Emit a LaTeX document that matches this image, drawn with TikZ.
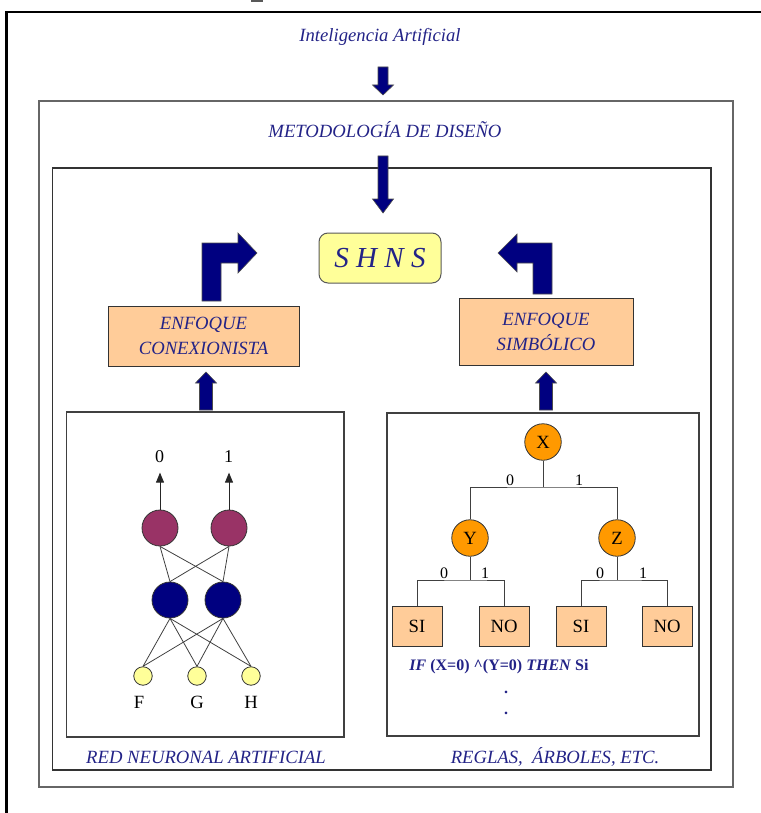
\documentclass[tikz,border=0pt]{standalone}
\usepackage{fontspec}
\setmainfont{Liberation Serif}
\usetikzlibrary{arrows.meta}
\definecolor{txtblue}{RGB}{35,35,135}
\definecolor{navyfill}{RGB}{0,0,128}
\definecolor{peach}{RGB}{255,204,153}
\definecolor{paleyellow}{RGB}{255,255,153}
\definecolor{maroonn}{RGB}{153,51,102}
\definecolor{orangen}{RGB}{255,153,0}
\tikzset{
  bigit/.style={text=txtblue, font=\fontsize{18.67}{25}\selectfont\itshape, inner sep=0pt},
  enfbox/.style={bigit, draw=black!80, fill=peach, line width=1pt, align=center},
  blockarrow/.style={fill=navyfill, draw=black!70, line width=0.6pt},
  frameA/.style={draw=black!60, line width=1.6pt, inner sep=0pt},
  frameB/.style={draw=black!80, line width=1.4pt, inner sep=0pt},
  frameC/.style={draw=black!75, line width=1.1pt, inner sep=0pt},
  neuron/.style={circle, draw=black!80, line width=0.8pt, inner sep=0pt, minimum size=36pt},
  ptext/.style={font=\fontsize{18.67}{22}\selectfont, inner sep=0pt},
  digitA/.style={font=\fontsize{18}{20}\selectfont, inner sep=0pt},
  digitB/.style={font=\fontsize{16}{18}\selectfont, inner sep=0pt},
  wire/.style={draw=black!75, line width=0.8pt},
  outarrow/.style={draw=black!85, line width=0.9pt, -{Triangle[width=8pt,length=10pt]}},
  leaf/.style={ptext, draw=black!80, fill=peach, line width=0.8pt, minimum width=50pt, minimum height=40pt},
  tnode/.style={neuron, ptext, fill=orangen, minimum size=36.5pt},
  ifline/.style={text=txtblue, font=\fontsize{16}{18}\selectfont\bfseries, inner sep=0pt},
  shnsbox/.style={draw=black!65, fill=paleyellow, line width=1pt, rounded corners=9pt,
    minimum width=122pt, minimum height=50pt, text=txtblue, font=\fontsize{29}{32}\selectfont\itshape}
}
\begin{document}
\begin{tikzpicture}[x=1pt,y=-1pt]
\useasboundingbox (0,0) rectangle (760,813);
% outer black frame
\draw[line width=2.6pt] (6.7,813) -- (6.7,12.2) -- (762,12.2);
\fill[black!65] (251,0) rectangle (263,2);
% nested frames
\node[frameA, minimum width=694pt, minimum height=686pt] (metbox) at (386,444) {};
\node[frameB, minimum width=658.5pt, minimum height=602pt] (innerbox) at (381.75,469) {};
\node[frameC, minimum width=277.5pt, minimum height=325pt] (nnbox) at (205.25,574.5) {};
\node[frameC, minimum width=312pt, minimum height=323pt] (treebox) at (543,574.5) {};
% titles
\node[bigit] (ia) at (380,37) {Inteligencia Artificial};
\node[bigit] (met) at (385,130) {METODOLOGÍA DE DISEÑO};
% top arrows
\path[blockarrow] (378,67) -- (388,67) -- (388,85) -- (393.5,85) -- (383,95) -- (372.5,85) -- (378,85) -- cycle;
\path[blockarrow] (378,156) -- (388,156) -- (388,199) -- (393.5,199) -- (383,213) -- (372.5,199) -- (378,199) -- cycle;
% SHNS
\node[shnsbox] (shns) at (380,258) {S H N S};
% enfoque boxes
\node[enfbox, minimum width=191pt, minimum height=60pt] (enfL) at (203.5,336) {ENFOQUE\\CONEXIONISTA};
\node[enfbox, minimum width=174pt, minimum height=67pt] (enfR) at (546,332) {ENFOQUE\\SIMBÓLICO};
% bent arrows
\path[blockarrow] (202,301) -- (202,243) -- (238,243) -- (238,233) -- (257,253) -- (238,273) -- (238,263) -- (221,263) -- (221,301) -- cycle;
\path[blockarrow] (552,294) -- (552,243) -- (517,243) -- (517,234) -- (498,253) -- (517,272) -- (517,263) -- (533,263) -- (533,294) -- cycle;
% up arrows
\path[blockarrow] (199.5,410) -- (199.5,383) -- (195.5,383) -- (206,372) -- (216.5,383) -- (212.5,383) -- (212.5,410) -- cycle;
\path[blockarrow] (539.5,410) -- (539.5,383) -- (535.5,383) -- (546,372) -- (556.5,383) -- (552.5,383) -- (552.5,410) -- cycle;
% neural network
\node[neuron, fill=maroonn] (o1) at (160,528) {};
\node[neuron, fill=maroonn] (o2) at (229,528) {};
\node[neuron, fill=navyfill] (h1) at (170,600) {};
\node[neuron, fill=navyfill] (h2) at (223,600) {};
\node[neuron, fill=paleyellow, minimum size=18.5pt] (iF) at (143,676) {};
\node[neuron, fill=paleyellow, minimum size=18.5pt] (iG) at (197,676) {};
\node[neuron, fill=paleyellow, minimum size=18.5pt] (iH) at (251,676) {};
\foreach \o in {o1,o2} \foreach \h in {h1,h2} \draw[wire] (\o.south) -- (\h.north);
\foreach \i in {iF,iG,iH} \foreach \h in {h1,h2} \draw[wire] (\i.north) -- (\h.south);
\draw[outarrow] (o1.north) -- ++(0,-37);
\draw[outarrow] (o2.north) -- ++(0,-37);
\node[digitA] (l0) at (159.5,457) {0};
\node[digitA] (l1) at (228.5,457) {1};
\node[ptext] (lF) at (139,702) {F};
\node[ptext] (lG) at (197,702) {G};
\node[ptext] (lH) at (251,702) {H};
\node[bigit] (nnlabel) at (206,757) {RED NEURONAL ARTIFICIAL};
% tree
\node[tnode] (X) at (543,442) {X};
\node[tnode] (Y) at (470,538) {Y};
\node[tnode] (Z) at (617,538) {Z};
\node[leaf] (si1) at (417,626) {SI};
\node[leaf] (no1) at (504,626) {NO};
\node[leaf] (si2) at (581,626) {SI};
\node[leaf] (no2) at (667,626) {NO};
\coordinate (xj) at (543,487);
\coordinate (yj) at (470,580);
\coordinate (zj) at (617,580);
\draw[wire] (X.south) -- (xj);
\draw[wire] (Y.north) |- (xj) -| (Z.north);
\draw[wire] (Y.south) -- (yj);
\draw[wire] (si1.north) |- (yj) -| (no1.north);
\draw[wire] (Z.south) -- (zj);
\draw[wire] (si2.north) |- (zj) -| (no2.north);
\node[digitB] at (510,480) {0};
\node[digitB] at (579,480) {1};
\node[digitB] at (444,573) {0};
\node[digitB] at (485,573) {1};
\node[digitB] at (600,573) {0};
\node[digitB] at (643,573) {1};
\node[ifline] (rule) at (499,667) {\textit{IF} (X=0) \textasciicircum(Y=0) \textit{THEN} Si};
\node[ifline] (d1) at (506,692) {.};
\node[ifline] (d2) at (506,713) {.};
\node[bigit] (trlabel) at (555,757) {REGLAS,\ \ ÁRBOLES, ETC.};
\end{tikzpicture}
\end{document}
